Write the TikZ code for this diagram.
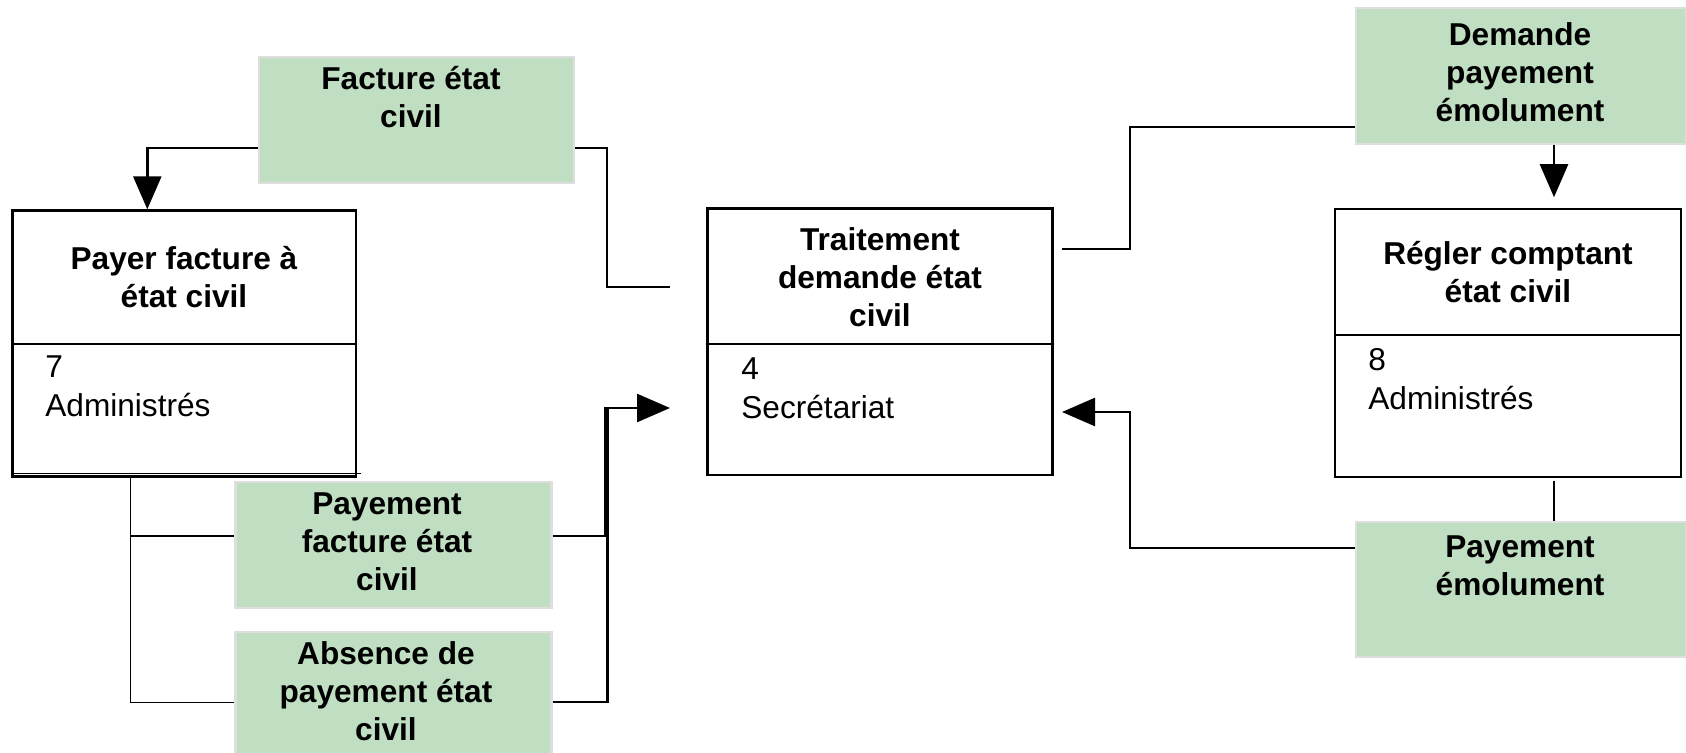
\documentclass[tikz,border=0pt]{standalone}
\usepackage{fontspec}
\setmainfont{Liberation Sans}
\usetikzlibrary{arrows.meta,calc,positioning}

\definecolor{fluxgreen}{RGB}{192,222,194}
\definecolor{fluxedge}{RGB}{222,222,222}

\tikzset{
  proc/.style={draw, line width=0.05cm, inner sep=0pt},
  flux/.style={fill=fluxgreen, draw=fluxedge, line width=0.05cm, inner sep=0pt},
  titre/.style={font=\bfseries\fontsize{18}{21.6}\selectfont, align=center, inner sep=0pt},
  corps/.style={font=\fontsize{18}{22.5}\selectfont, align=left, inner sep=0pt, anchor=north west},
  link/.style={line width=0.05cm},
  arr/.style={link, -{Triangle[length=0.66cm,width=0.56cm]}},
}

\begin{document}
\begin{tikzpicture}[x=0.02cm, y=-0.02cm]
    \useasboundingbox (0,0) rectangle (1686,753);
    \clip (0,0) rectangle (1686,753);

    % process boxes
    \node[proc, minimum width=6.87cm, minimum height=5.32cm] (payer) at (184.3,343.5) {};
    \node[proc, minimum width=6.90cm, minimum height=5.33cm] (trait) at (880,341.7) {};
    \node[proc, minimum width=6.92cm, minimum height=5.36cm] (regler) at (1508,343) {};
    \draw[link] (payer.west |- 0,344) -- (payer.east |- 0,344);
    \draw[link] (trait.west |- 0,344) -- (trait.east |- 0,344);
    \draw[link] (regler.west |- 0,335) -- (regler.east |- 0,335);
    \draw[thin] ($(payer.south west)+(0,-4)$) -- ++(350,0);

    \node[titre] (payer-t) at (184,277) {Payer facture à\\état civil};
    \node[titre] (trait-t) at (880,277) {Traitement\\demande état\\civil};
    \node[titre] (regler-t) at (1508,272) {Régler comptant\\état civil};
    \node[corps] (payer-b) at (45,355) {7\\Administrés};
    \node[corps] (trait-b) at (741,357) {4\\Secrétariat};
    \node[corps] (regler-b) at (1368,348) {8\\Administrés};

    % flux boxes
    \node[flux, minimum width=6.30cm, minimum height=2.52cm] (fact) at (416.5,120) {};
    \node[flux, minimum width=6.32cm, minimum height=2.53cm] (payef) at (393.5,545) {};
    \node[flux, minimum width=6.32cm, minimum height=2.53cm] (absence) at (393.5,695) {};
    \node[flux, minimum width=6.60cm, minimum height=2.72cm] (demande) at (1521,76) {};
    \node[flux, minimum width=6.60cm, minimum height=2.70cm] (payem) at (1521,589.5) {};

    \node[titre] (fact-t) at (411,97) {Facture état\\civil};
    \node[titre] (payef-t) at (387,542) {Payement\\facture état\\civil};
    \node[titre] (absence-t) at (386,691) {Absence de\\payement état\\civil};
    \node[titre] (demande-t) at (1520,72) {Demande\\payement\\émolument};
    \node[titre] (payem-t) at (1520,566) {Payement\\émolument};

    % free ends near Traitement
    \coordinate (trait-in1) at (670,287);
    \coordinate (trait-in2) at (670,408);
    \coordinate (trait-out1) at (1062,249);
    \coordinate (trait-in3) at (1062,412);

    % left side
    \draw[arr] ($(fact.west)+(0,28)$) -| ($(payer.north)+(-37,0)$);
    \draw[link] ($(fact.east)+(0,28)$) -| ($(trait-in1)+(-63,0)$) -- (trait-in1);
    \draw[thin] (payer.south -| 130,0) |- ($(absence.west)+(0,7)$);
    \draw[link] (130,536) -- ($(payef.west)+(0,-9)$);
    \draw[arr] ($(payef.east)+(0,-9)$) -| ($(trait-in2)+(-64.5,0)$) -- (trait-in2);
    \draw[link] ($(absence.east)+(0,7)$) -| ($(trait-in2)+(-62.5,0)$);

    % right side
    \draw[link] ($(demande.west)+(0,51)$) -| ($(trait-out1)+(68,0)$) -- (trait-out1);
    \draw[arr] ($(demande.south)+(33,0)$) -- ++(0,52);
    \draw[link] ($(regler.south)+(46,3)$) -- ($(payem.north)+(33,0)$);
    \draw[arr] ($(payem.west)+(0,-41.5)$) -| ($(trait-in3)+(68,0)$) -- (trait-in3);
\end{tikzpicture}
\end{document}
